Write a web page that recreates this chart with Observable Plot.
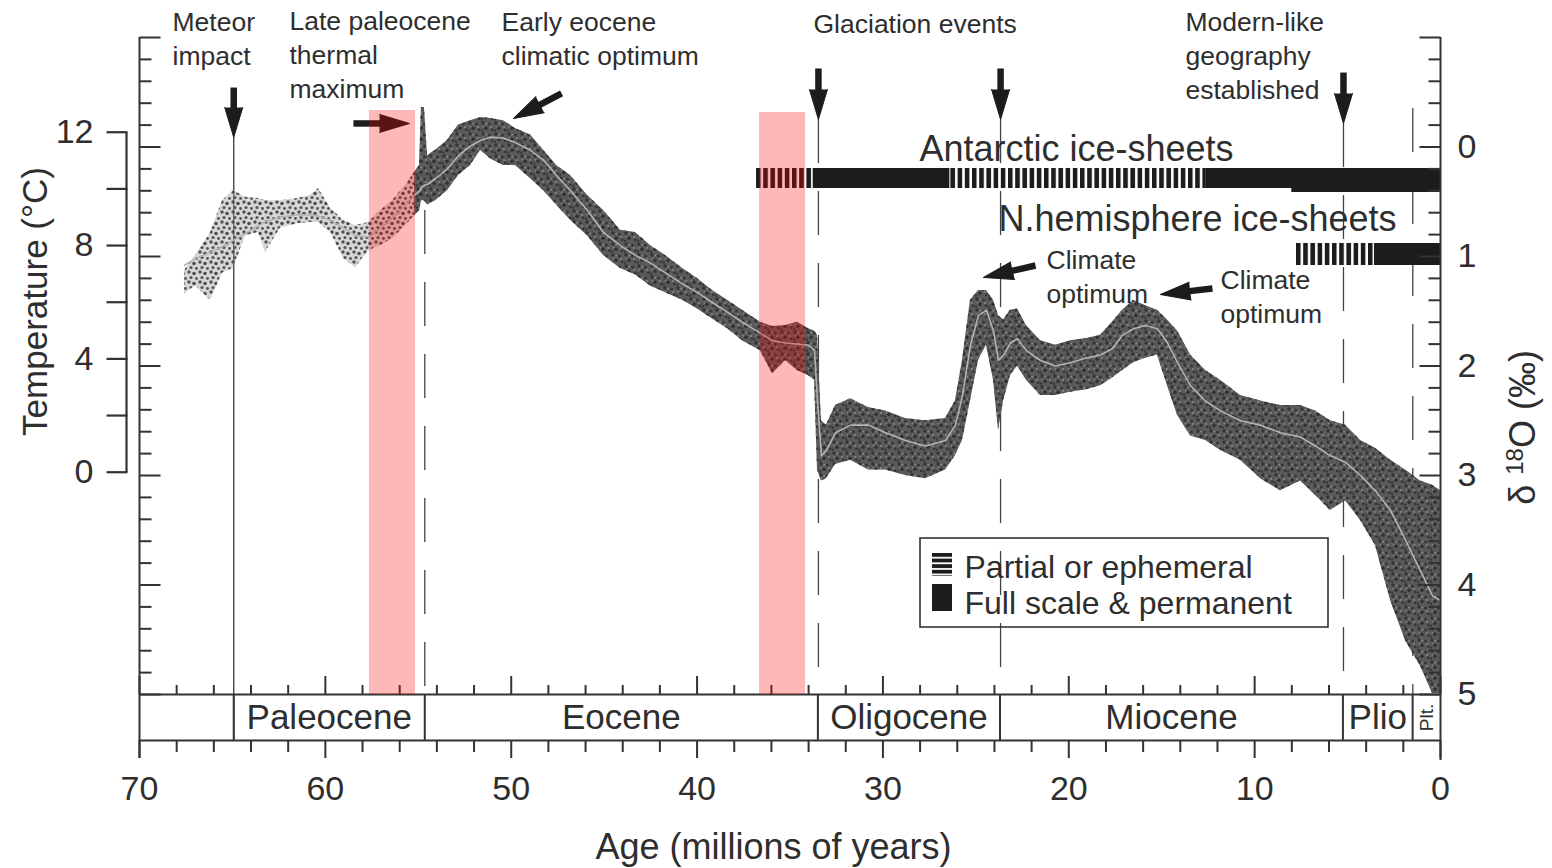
<!DOCTYPE html>
<html>
<head>
<meta charset="utf-8">
<script src="https://cdn.jsdelivr.net/npm/d3@7"></script>
<script src="https://cdn.jsdelivr.net/npm/@observablehq/plot@0.6"></script>
<style>
  html, body { margin: 0; padding: 0; background: #fff; }
  #chart { width: 1552px; height: 868px; overflow: hidden; }
</style>
</head>
<body>
<div id="chart"></div>
<script>
// ================= DATA =================
// Deep-sea benthic δ18O record (scatter envelope + smoothed curve), age in Myr
const cloudAge = [67.58, 66.99, 66.18, 65.53, 64.94, 64.30, 63.60, 63.22, 62.41, 61.50, 60.80, 60.37, 59.72, 59.02, 58.38, 57.68, 57.03, 56.39, 55.69, 55.20, 54.93, 54.83, 54.67, 54.50, 54.07, 53.43, 52.84, 52.19, 51.65, 51.11, 50.42, 49.77, 48.96, 48.26, 47.56, 46.81, 45.90, 45.03, 44.12, 43.31, 42.51, 41.70, 40.78, 39.98, 39.17, 38.36, 37.56, 36.59, 35.94, 35.24, 34.60, 34.00, 33.68, 33.52, 33.31, 33.04, 32.55, 31.74, 30.78, 29.86, 28.79, 27.71, 26.63, 26.10, 25.72, 25.29, 24.86, 24.43, 24.05, 23.78, 23.51, 23.14, 22.76, 22.28, 21.52, 20.71, 19.91, 19.10, 18.29, 17.65, 17.11, 16.52, 15.87, 15.23, 14.69, 14.15, 13.45, 12.64, 11.84, 10.76, 9.68, 8.61, 7.53, 6.73, 5.92, 5.11, 4.30, 3.50, 2.69, 1.88, 1.08, 0.43, 0.00];
const cloudLight = [1.13, 0.99, 0.78, 0.49, 0.40, 0.46, 0.47, 0.49, 0.49, 0.47, 0.44, 0.38, 0.56, 0.67, 0.72, 0.69, 0.58, 0.49, 0.35, 0.23, 0.17, -0.36, -0.36, 0.08, 0.03, -0.06, -0.20, -0.24, -0.27, -0.26, -0.24, -0.17, -0.11, 0.03, 0.17, 0.26, 0.44, 0.58, 0.76, 0.78, 0.90, 0.99, 1.11, 1.20, 1.31, 1.40, 1.49, 1.60, 1.64, 1.63, 1.60, 1.66, 1.68, 1.72, 2.50, 2.54, 2.36, 2.30, 2.38, 2.41, 2.48, 2.50, 2.48, 2.32, 1.95, 1.40, 1.31, 1.31, 1.40, 1.54, 1.58, 1.49, 1.48, 1.63, 1.77, 1.81, 1.77, 1.75, 1.72, 1.60, 1.49, 1.40, 1.45, 1.49, 1.58, 1.68, 1.90, 2.04, 2.13, 2.27, 2.32, 2.36, 2.36, 2.41, 2.50, 2.54, 2.68, 2.75, 2.86, 2.95, 3.05, 3.09, 3.14];
const cloudHeavy = [1.34, 1.27, 1.40, 1.15, 1.11, 0.81, 0.78, 0.96, 0.74, 0.70, 0.69, 0.69, 0.78, 1.02, 1.10, 0.95, 0.90, 0.84, 0.72, 0.63, 0.58, 0.49, 0.49, 0.53, 0.49, 0.40, 0.26, 0.17, 0.03, 0.11, 0.17, 0.17, 0.29, 0.40, 0.53, 0.67, 0.81, 0.99, 1.11, 1.17, 1.27, 1.33, 1.40, 1.48, 1.57, 1.66, 1.77, 1.86, 2.07, 1.95, 2.04, 2.09, 2.13, 2.95, 3.05, 3.03, 2.90, 2.86, 2.95, 2.95, 3.00, 3.03, 2.95, 2.82, 2.68, 2.32, 1.95, 1.81, 2.13, 2.59, 2.32, 2.09, 2.00, 2.13, 2.27, 2.27, 2.24, 2.22, 2.18, 2.11, 2.04, 1.97, 1.93, 1.90, 2.18, 2.45, 2.64, 2.68, 2.77, 2.86, 3.03, 3.14, 3.05, 3.18, 3.32, 3.23, 3.41, 3.64, 4.14, 4.51, 4.74, 4.99, 4.99];
const cloudSmooth = [1.08, 1.02, 0.96, 0.91, 0.85, 0.79, 0.72, 0.68, 0.64, 0.62, 0.62, 0.63, 0.67, 0.74, 0.81, 0.82, 0.74, 0.65, 0.53, 0.44, 0.40, 0.37, 0.35, 0.34, 0.29, 0.20, 0.08, -0.01, -0.06, -0.09, -0.08, -0.04, 0.03, 0.12, 0.26, 0.40, 0.58, 0.78, 0.90, 0.99, 1.06, 1.15, 1.25, 1.33, 1.42, 1.51, 1.60, 1.70, 1.77, 1.79, 1.80, 1.81, 1.86, 2.32, 2.82, 2.77, 2.61, 2.54, 2.54, 2.61, 2.68, 2.73, 2.68, 2.54, 2.27, 1.81, 1.54, 1.49, 1.68, 1.95, 1.90, 1.79, 1.75, 1.86, 1.95, 2.00, 1.97, 1.93, 1.90, 1.84, 1.72, 1.66, 1.63, 1.66, 1.79, 1.97, 2.18, 2.32, 2.41, 2.50, 2.54, 2.61, 2.65, 2.73, 2.82, 2.88, 3.00, 3.14, 3.32, 3.59, 3.87, 4.10, 4.14];

// Geological epochs (band along the bottom)
const epochName = ["Paleocene", "Eocene", "Oligocene", "Miocene", "Plio", "Plt."];
const epochFrom = [64.93, 54.65, 33.5, 23.7, 5.25, 1.5];
const epochTo   = [54.65, 33.5, 23.7, 5.25, 1.5, 0];

// Events (vertical marker lines)
const meteorAge = 64.93;
const eventAge  = [54.65, 33.47, 23.67, 5.22, 1.49];

// Ice sheets
const iceSheet = ["Antarctic", "Antarctic", "Antarctic", "Antarctic", "N.hemisphere", "N.hemisphere"];
const iceKind  = ["partial", "full", "partial", "full", "partial", "full"];
const iceFrom  = [36.8, 33.75, 26.4, 12.6, 7.75, 3.55];
const iceTo    = [33.75, 26.4, 12.6, 0, 3.55, 0];

// Highlighted (pink) intervals
const highlightFrom = [57.63, 36.64];
const highlightTo   = [55.15, 34.16];

// Ticks
const xTickLabels = [70, 60, 50, 40, 30, 20, 10, 0];
const d18OTickLabels = [0, 1, 2, 3, 4, 5];
const d18OMajorTicks = [-1, 0, 1, 2, 3, 4, 5];
const tempTicks = [0, 2, 4, 6, 8, 10, 12];
const tempTickLabels = [12, 8, 4, 0];
const tempRefT = [12, 0];          // temperature scale reference points
const tempRefD18O = [-0.135, 2.97]; // matching δ18O positions

// ================= LAYOUT =================
const W = 1552, H = 868;
const INK = "#2e2e2e";
const FONT = `"Liberation Sans", Arial, Helvetica, sans-serif`;
const X0 = 139, X1 = 1440, Y0 = 37, Y1 = 740;
const xDomain = [70, 0], yDomain = [-1, 5.42];
const px2age = px => xDomain[0] + (px - X0) * (xDomain[1] - xDomain[0]) / (X1 - X0);
const px2d   = py => yDomain[0] + (py - Y0) * (yDomain[1] - yDomain[0]) / (Y1 - Y0);
const age2px = a => X0 + (a - xDomain[0]) * (X1 - X0) / (xDomain[1] - xDomain[0]);
const d2px   = d => Y0 + (d - yDomain[0]) * (Y1 - Y0) / (yDomain[1] - yDomain[0]);
const tempToD = t => tempRefD18O[1] + (tempRefD18O[0] - tempRefD18O[1]) * (t - tempRefT[1]) / (tempRefT[0] - tempRefT[1]);
const BAND_TOP = 5.0, BAND_BOT = yDomain[1];

// tables
const cloud = cloudAge.map((a, i) => ({age: a, light: cloudLight[i], heavy: cloudHeavy[i], smooth: cloudSmooth[i]}));
const cloudSparse = cloud.filter(d => d.age >= 55.2);
const cloudDense = cloud.filter(d => d.age <= 55.2);
const epochs = epochName.map((n, i) => ({name: n, from: epochFrom[i], to: epochTo[i], mid: (epochFrom[i] + epochTo[i]) / 2}));
const ice = iceSheet.map((s, i) => ({sheet: s, kind: iceKind[i], from: iceFrom[i], to: iceTo[i],
  top: s === "Antarctic" ? px2d(168) : px2d(243), bottom: s === "Antarctic" ? px2d(188) : px2d(265)}));
const iceThick = [{from: 8, to: 0, top: px2d(180), bottom: px2d(192)}];
const highlights = highlightFrom.map((f, i) => ({from: f, to: highlightTo[i], top: px2d(i === 0 ? 110 : 112)}));
const eventTops = [210, 119, 119, 123, 108];
const events = eventAge.map((a, i) => ({age: a, top: px2d(eventTops[i])}));

const xMinor = d3.range(2, 70, 2).filter(d => d % 10 !== 0);
const dMinor = d3.range(-0.8, 5.0, 0.2).filter(d => Math.abs(d - Math.round(d)) > 1e-6);

// annotations (text) : [text, left px, last-baseline px]
const notes = [
  ["Meteor\nimpact", 172, 64],
  ["Late paleocene\nthermal\nmaximum", 289, 97],
  ["Early eocene\nclimatic optimum", 501, 64],
  ["Glaciation events", 813, 32],
  ["Modern-like\ngeography\nestablished", 1185, 98],
  ["Climate\noptimum", 1046, 302],
  ["Climate\noptimum", 1220, 322]
].map(([t, x, y]) => ({text: t, age: px2age(x), d: px2d(y)}));

// arrows: tail -> tip in data units
const arrowDefs = [
  [64.93, -0.543, 64.93, -0.087],
  [58.49, -0.215, 55.47, -0.215],
  [47.29, -0.489, 49.88, -0.260],
  [33.47, -0.717, 33.47, -0.251],
  [23.67, -0.717, 23.67, -0.251],
  [5.22, -0.680, 5.22, -0.215],
  [21.79, 1.082, 24.59, 1.192],
  [12.27, 1.292, 15.07, 1.347]
];
const HEAD = 30, HEAD_R = 9;
const arrows = arrowDefs.map(([a1, d1, a2, d2]) => {
  const tx = age2px(a1), ty = d2px(d1), hx = age2px(a2), hy = d2px(d2);
  const L = Math.hypot(hx - tx, hy - ty), ux = (hx - tx) / L, uy = (hy - ty) / L;
  const bx = hx - ux * HEAD, by = hy - uy * HEAD;
  return {tailAge: a1, tailD: d1, baseAge: px2age(bx), baseD: px2d(by),
          shaftAge: px2age(bx + ux * 3), shaftD: px2d(by + uy * 3),
          angle: Math.atan2(ux, -uy) * 180 / Math.PI};
});

// patterns (partial ice sheets, scatter texture)
function defs() {
  const ns = "http://www.w3.org/2000/svg";
  const g = document.createElementNS(ns, "defs");
  g.innerHTML = `
    <pattern id="vstripes" patternUnits="userSpaceOnUse" width="7.2" height="60">
      <rect x="0" y="0" width="4.6" height="60" fill="#1c1c1c"></rect>
    </pattern>
    <pattern id="hstripes" patternUnits="userSpaceOnUse" width="40" height="5.6" y="553">
      <rect x="0" y="0" width="40" height="3.8" fill="#1c1c1c"></rect>
    </pattern>
    <pattern id="speckleDense" patternUnits="userSpaceOnUse" width="13" height="11">
      <circle cx="2" cy="2" r="1.7" fill="#333"></circle>
      <circle cx="8.5" cy="3" r="1.5" fill="#363636"></circle>
      <circle cx="5" cy="7.2" r="1.8" fill="#303030"></circle>
      <circle cx="11.2" cy="8.8" r="1.4" fill="#353535"></circle>
      <circle cx="1" cy="9.6" r="1.2" fill="#383838"></circle>
      <circle cx="5.2" cy="2.6" r="0.9" fill="#8e8e8e"></circle>
      <circle cx="10" cy="6" r="1" fill="#888"></circle>
      <circle cx="2.4" cy="5.8" r="0.8" fill="#8a8a8a"></circle>
    </pattern>
    <pattern id="speckleSparse" patternUnits="userSpaceOnUse" width="11" height="10">
      <circle cx="2" cy="2" r="1.7" fill="#505050"></circle>
      <circle cx="7" cy="3.5" r="1.8" fill="#4d4d4d"></circle>
      <circle cx="4" cy="7.5" r="1.6" fill="#555"></circle>
      <circle cx="9.5" cy="8.5" r="1.4" fill="#525252"></circle>
    </pattern>`;
  return g;
}

const chart = Plot.plot({
  width: W, height: H,
  marginLeft: X0, marginRight: W - X1, marginTop: Y0, marginBottom: H - Y1,
  x: {domain: xDomain, range: [X0, X1], label: null},
  y: {domain: yDomain, range: [Y0, Y1], axis: null, label: null},
  style: {fontFamily: FONT, fontSize: "26px", color: INK, background: "#fff", overflow: "visible"},
  marks: [
    defs,
    // event lines
    Plot.ruleX(events, {x: "age", y1: "top", y2: BAND_TOP, stroke: "#444", strokeWidth: 1.3, strokeDasharray: "44,28"}),
    Plot.ruleX([meteorAge], {y1: -0.087, y2: BAND_BOT, stroke: "#444", strokeWidth: 1.4}),
    // data cloud
    Plot.areaY(cloudSparse, {x: "age", y1: "heavy", y2: "light", fill: "#999", fillOpacity: 0.4}),
    Plot.areaY(cloudSparse, {x: "age", y1: "heavy", y2: "light", fill: "url(#speckleSparse)"}),
    Plot.areaY(cloudDense, {x: "age", y1: "heavy", y2: "light", fill: "#5a5a5a"}),
    Plot.areaY(cloudDense, {x: "age", y1: "heavy", y2: "light", fill: "url(#speckleDense)"}),
    Plot.line(cloud, {x: "age", y: "smooth", stroke: "#b4b4b4", strokeWidth: 1.6}),
    // ice sheets
    Plot.rect(ice.filter(d => d.kind === "partial"), {x1: "from", x2: "to", y1: "top", y2: "bottom", fill: "url(#vstripes)"}),
    Plot.rect(ice.filter(d => d.kind === "full"), {x1: "from", x2: "to", y1: "top", y2: "bottom", fill: "#1c1c1c"}),
    Plot.rect(iceThick, {x1: "from", x2: "to", y1: "top", y2: "bottom", fill: "#1c1c1c"}),
    // epoch band
    Plot.ruleY([BAND_TOP, BAND_BOT], {x1: 70, x2: 0, stroke: "#333", strokeWidth: 2}),
    Plot.ruleX(epochs, {x: "from", y1: BAND_TOP, y2: BAND_BOT, stroke: "#333", strokeWidth: 2}),
    Plot.text(epochs.filter(d => d.name !== "Plt."), {x: "mid", y: px2d(728), text: "name", lineAnchor: "bottom", fontSize: 35, fill: INK}),
    Plot.text(epochs.filter(d => d.name === "Plt."), {x: "mid", y: px2d(717), text: "name", rotate: -90, lineAnchor: "middle", fontSize: 19, fill: INK}),
    // axes frame
    Plot.ruleX([70], {y1: -1, y2: px2d(758), stroke: "#333", strokeWidth: 2}),
    Plot.ruleX([0], {y1: -1, y2: px2d(760), stroke: "#333", strokeWidth: 2}),
    Plot.link(d18OMajorTicks, {x1: 70, x2: px2age(X0 + 21), y1: d => d, y2: d => d, stroke: "#333", strokeWidth: 2}),
    Plot.link(dMinor, {x1: 70, x2: px2age(X0 + 12), y1: d => d, y2: d => d, stroke: "#333", strokeWidth: 2}),
    Plot.link(d18OMajorTicks, {x1: 0, x2: px2age(X1 - 21), y1: d => d, y2: d => d, stroke: "#333", strokeWidth: 2}),
    Plot.link(dMinor, {x1: 0, x2: px2age(X1 - 12), y1: d => d, y2: d => d, stroke: "#333", strokeWidth: 2}),
    Plot.text(d18OTickLabels, {x: 0, y: d => d, text: d => String(d), dx: 17, textAnchor: "start", lineAnchor: "middle", fontSize: 34, fill: INK}),
    // x ticks
    Plot.ruleX(xTickLabels, {y1: BAND_TOP, y2: px2d(676), stroke: "#333", strokeWidth: 2}),
    Plot.ruleX(xMinor, {y1: BAND_TOP, y2: px2d(685), stroke: "#333", strokeWidth: 2}),
    Plot.ruleX(xMinor, {y1: BAND_BOT, y2: px2d(752), stroke: "#333", strokeWidth: 2}),
    Plot.axisX(xTickLabels, {anchor: "bottom", tickSize: 18, tickPadding: 17, strokeWidth: 2, stroke: "#333", fontSize: 34, label: null, fill: INK}),
    Plot.text(["Age (millions of years)"], {x: px2age(773), y: px2d(858), text: d => d, lineAnchor: "bottom", fontSize: 36, fill: INK}),
    // temperature axis
    Plot.link([0], {x1: px2age(126), x2: px2age(126), y1: tempToD(12), y2: tempToD(0), stroke: "#333", strokeWidth: 2.2}),
    Plot.link(tempTicks, {x1: px2age(106), x2: px2age(127), y1: tempToD, y2: tempToD, stroke: "#333", strokeWidth: 2.2}),
    Plot.text(tempTickLabels, {x: px2age(93), y: tempToD, text: d => String(d), textAnchor: "end", lineAnchor: "middle", fontSize: 34, fill: INK}),
    Plot.text(["Temperature (°C)"], {x: px2age(35), y: px2d(301), text: d => d, rotate: -90, lineAnchor: "middle", fontSize: 35, fill: INK}),
    Plot.text(["δ 18O (‰)"], {x: px2age(1523), y: px2d(427), text: d => d, rotate: -90, lineAnchor: "middle", fontSize: 36, fill: INK}),
    // legend
    Plot.rect([0], {x1: px2age(920), x2: px2age(1328), y1: px2d(538), y2: px2d(627), fill: "none", stroke: "#333", strokeWidth: 1.6}),
    Plot.rect([0], {x1: px2age(932), x2: px2age(952), y1: px2d(553), y2: px2d(576), fill: "url(#hstripes)"}),
    Plot.rect([0], {x1: px2age(932), x2: px2age(952), y1: px2d(584), y2: px2d(611), fill: "#1c1c1c"}),
    Plot.text(["Partial or ephemeral", "Full scale & permanent"], {x: px2age(964), y: (d, i) => px2d(i === 0 ? 577 : 613), text: d => d, textAnchor: "start", lineAnchor: "bottom", fontSize: 32, fill: INK}),
    // ice sheet labels
    Plot.text(["Antarctic ice-sheets"], {x: px2age(1076), y: px2d(160), text: d => d, lineAnchor: "bottom", fontSize: 36, fill: INK}),
    Plot.text(["N.hemisphere ice-sheets"], {x: px2age(1197), y: px2d(230), text: d => d, lineAnchor: "bottom", fontSize: 36, fill: INK}),
    // arrows
    Plot.link(arrows, {x1: "tailAge", y1: "tailD", x2: "shaftAge", y2: "shaftD", stroke: "#1c1c1c", strokeWidth: 6.5}),
    Plot.vector(arrows, {x: "baseAge", y: "baseD", length: HEAD, rotate: "angle", shape: "spike", r: HEAD_R, anchor: "start", fill: "#1c1c1c", stroke: "#1c1c1c", strokeWidth: 1, fillOpacity: 1}),
    // highlighted intervals
    Plot.rect(highlights, {x1: "from", x2: "to", y1: "top", y2: BAND_TOP, fill: "#ff0000", fillOpacity: 0.28}),
    // annotations
    Plot.text(notes, {x: "age", y: "d", text: "text", textAnchor: "start", lineAnchor: "bottom", lineHeight: 1.27, fontSize: 26.5, fill: INK})
  ]
});

// superscript in the δ18O label
chart.querySelectorAll("text").forEach(t => {
  if (t.textContent === "δ 18O (‰)") {
    const ns = "http://www.w3.org/2000/svg";
    t.textContent = "";
    t.appendChild(document.createTextNode("δ "));
    const sup = document.createElementNS(ns, "tspan");
    sup.setAttribute("dy", "-12"); sup.setAttribute("font-size", "24"); sup.textContent = "18";
    const rest = document.createElementNS(ns, "tspan");
    rest.setAttribute("dy", "12"); rest.textContent = "O (‰)";
    t.appendChild(sup); t.appendChild(rest);
  }
});
document.getElementById("chart").appendChild(chart);
</script>
</body>
</html>
